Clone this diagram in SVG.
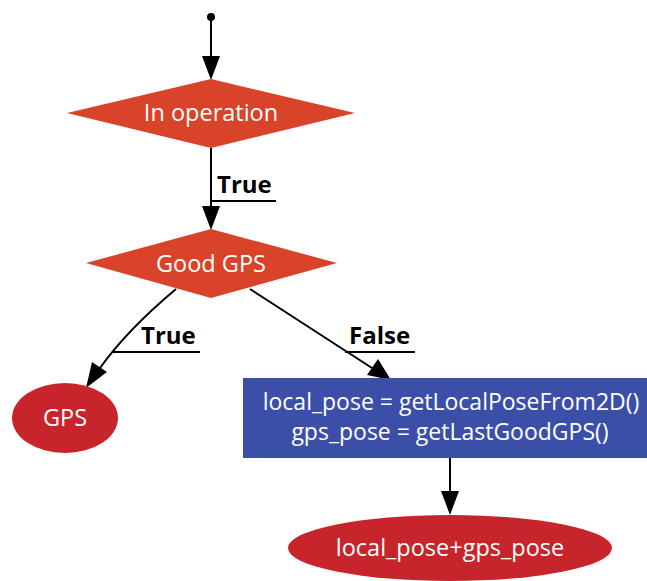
<svg xmlns="http://www.w3.org/2000/svg" width="647" height="581" viewBox="0 0 647 581">
<defs>
<style>
.lbl{font-family:"Open Sans","DejaVu Sans",sans-serif;font-size:23.5px;fill:#fff;text-anchor:middle}
.code{font-size:23px}
.edge{fill:none;stroke:#000;stroke-width:2}
.el{font-family:"Open Sans","DejaVu Sans",sans-serif;font-size:24px;font-weight:bold;fill:#000}
.ul{stroke:#000;stroke-width:2}
.dia{fill:#d8432a}
.term{fill:#c8242b}
</style>
</defs>
<rect width="647" height="581" fill="#fff"/>
<g id="edges">
<circle cx="211" cy="17" r="4" fill="#000"/>
<path class="edge" d="M211,17 L211,56"/>
<path d="M202,56 L220,56 L211,80 z" fill="#000"/>
<path class="edge" d="M211,148 L211,207"/>
<path d="M202,206 L220,206 L211,230 z" fill="#000"/>
<text class="el" x="217" y="193">True</text>
<line class="ul" x1="211" y1="201" x2="276" y2="201"/>
<path class="edge" d="M176,289 C145,315 120,340 100,368"/>
<path d="M92,362 L107,372 L86,388 z" fill="#000"/>
<text class="el" x="141" y="344">True</text>
<line class="ul" x1="113" y1="352" x2="200" y2="352"/>
<path class="edge" d="M250,289 L372,368"/>
<path d="M367,375 L378,359 L391,380 z" fill="#000"/>
<text class="el" x="349" y="344">False</text>
<line class="ul" x1="345" y1="352" x2="415" y2="352"/>
<path class="edge" d="M450,458 L450,492"/>
<path d="M441,491 L459,491 L450,515 z" fill="#000"/>
</g>
<g id="in-operation">
<polygon class="dia" points="211,79 355,113 211,148 67,113"/>
<text class="lbl" x="211" y="121">In operation</text>
</g>
<g id="good-gps">
<polygon class="dia" points="211,229 337,263 211,298 86,263"/>
<text class="lbl" x="211" y="272">Good GPS</text>
</g>
<g id="gps">
<ellipse class="term" cx="65" cy="418" rx="53" ry="35"/>
<text class="lbl" x="65" y="426">GPS</text>
</g>
<g id="fallback">
<rect x="243" y="378" width="410" height="80" fill="#3c4fa8"/>
<text class="lbl code" x="451" y="410">local_pose = getLocalPoseFrom2D()</text>
<text class="lbl code" x="450" y="440">gps_pose = getLastGoodGPS()</text>
</g>
<g id="combined">
<ellipse class="term" cx="450" cy="548" rx="162" ry="33"/>
<text class="lbl" x="450" y="556">local_pose+gps_pose</text>
</g>
</svg>
